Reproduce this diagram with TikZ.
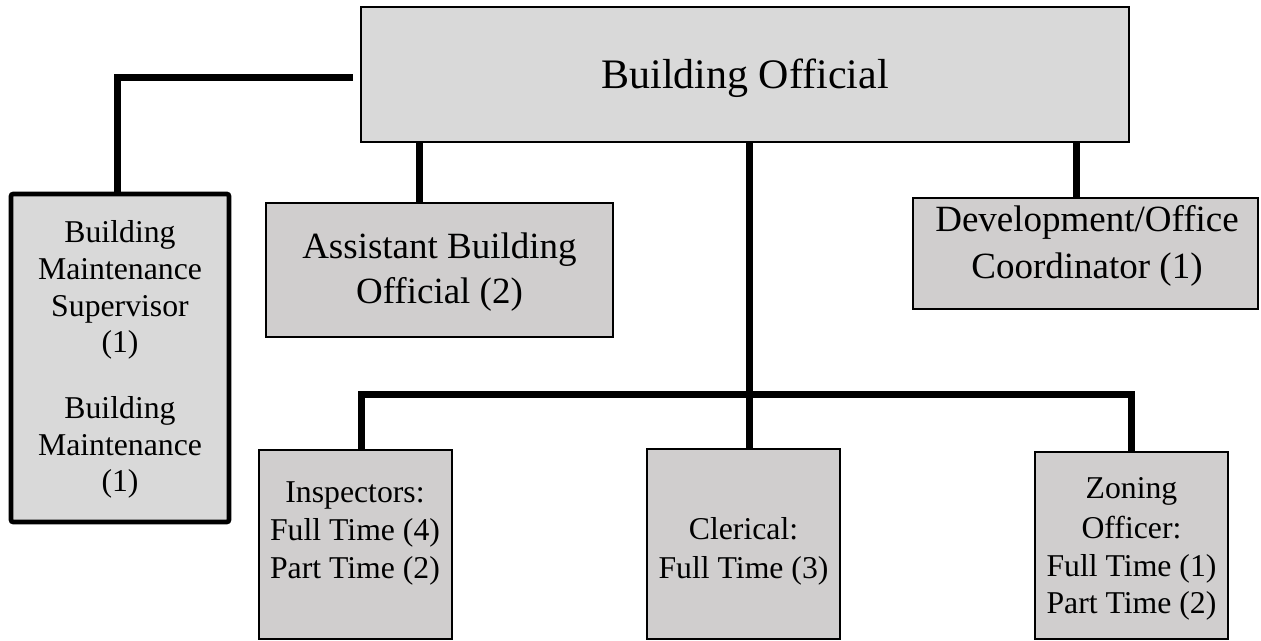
\documentclass[tikz,border=0pt]{standalone}
\usepackage{fontspec}
\setmainfont{Liberation Serif}
\definecolor{lightfill}{HTML}{D9D9D9}
\definecolor{warmfill}{HTML}{D0CECE}
\begin{document}
\begin{tikzpicture}[x=0.75pt,y=-0.75pt,
  unit box/.style={draw=black, line width=1.5pt, inner sep=0pt, fill=warmfill},
  head box/.style={unit box, fill=lightfill},
  side box/.style={unit box, fill=lightfill, line width=3.4pt, rounded corners=1.5pt},
  link/.style={line width=5.25pt, draw=black},
  lbl/.style={anchor=base, inner sep=0pt},
  big/.style={font=\fontsize{31.5pt}{37pt}\selectfont},
  mid/.style={font=\fontsize{27.75pt}{33pt}\selectfont},
  small/.style={font=\fontsize{23.8pt}{28pt}\selectfont},
]
\useasboundingbox (0,0) rectangle (1261,641);
\fill[white] (0,0) rectangle (1261,641);

% ---- boxes ----
\node[head box, minimum width=576pt, minimum height=101.25pt] (bo) at (745,74.5) {};
\node[side box, minimum width=163.5pt, minimum height=246pt] (maint) at (120,358) {};
\node[unit box, minimum width=260.25pt, minimum height=100.5pt] (asst) at (439.5,270) {};
\node[unit box, minimum width=258.75pt, minimum height=83.25pt] (dev) at (1085.5,253.5) {};
\node[unit box, minimum width=144.75pt, minimum height=141.75pt] (insp) at (355.5,544.5) {};
\node[unit box, minimum width=144.75pt, minimum height=142.5pt] (cler) at (743.5,544) {};
\node[unit box, minimum width=144.75pt, minimum height=140.25pt] (zon) at (1131.5,545.5) {};

% ---- connectors ----
\coordinate (bolead) at (353,78);
\draw[link] (bolead) -| ([xshift=-1.9pt]maint.north);

\coordinate (asstin) at ([xshift=-15.375pt]asst.north);
\draw[link] (asstin |- bo.south) -- (asstin);

\coordinate (devin) at ([xshift=-7.125pt]dev.north);
\draw[link] (devin |- bo.south) -- (devin);

\coordinate (trunk) at ([xshift=4.125pt]cler.north);
\draw[link] (trunk |- bo.south) -- (trunk);

\coordinate (bus) at (0,395);
\coordinate (inspin) at ([xshift=4.125pt]insp.north);
\draw[link] (inspin) -- (inspin |- bus) -- (zon.north |- bus) -- (zon.north);

% ---- labels ----
\node[lbl,big] (bo-t) at (745,89) {Building Official};

\node[lbl,mid] (asst-t1) at (439.5,259) {Assistant Building};
\node[lbl,mid] (asst-t2) at (439.5,304) {Official (2)};

\node[lbl,mid] (dev-t1) at (1087,232) {Development/Office};
\node[lbl,mid] (dev-t2) at (1087,279) {Coordinator (1)};

\node[lbl,small] (maint-t1) at (120,243) {Building};
\node[lbl,small] (maint-t2) at (120,280) {Maintenance};
\node[lbl,small] (maint-t3) at (120,317) {Supervisor};
\node[lbl,small] (maint-t4) at (120,353) {(1)};
\node[lbl,small] (maint-t5) at (120,419) {Building};
\node[lbl,small] (maint-t6) at (120,456) {Maintenance};
\node[lbl,small] (maint-t7) at (120,492) {(1)};

\node[lbl,small] (insp-t1) at (355,503) {Inspectors:};
\node[lbl,small] (insp-t2) at (355,541) {Full Time (4)};
\node[lbl,small] (insp-t3) at (355,579) {Part Time (2)};

\node[lbl,small] (cler-t1) at (743.5,540) {Clerical:};
\node[lbl,small] (cler-t2) at (743.5,578) {Full Time (3)};

\node[lbl,small] (zon-t1) at (1131.5,499) {Zoning};
\node[lbl,small] (zon-t2) at (1131.5,538) {Officer:};
\node[lbl,small] (zon-t3) at (1131.5,576) {Full Time (1)};
\node[lbl,small] (zon-t4) at (1131.5,614) {Part Time (2)};
\end{tikzpicture}
\end{document}
